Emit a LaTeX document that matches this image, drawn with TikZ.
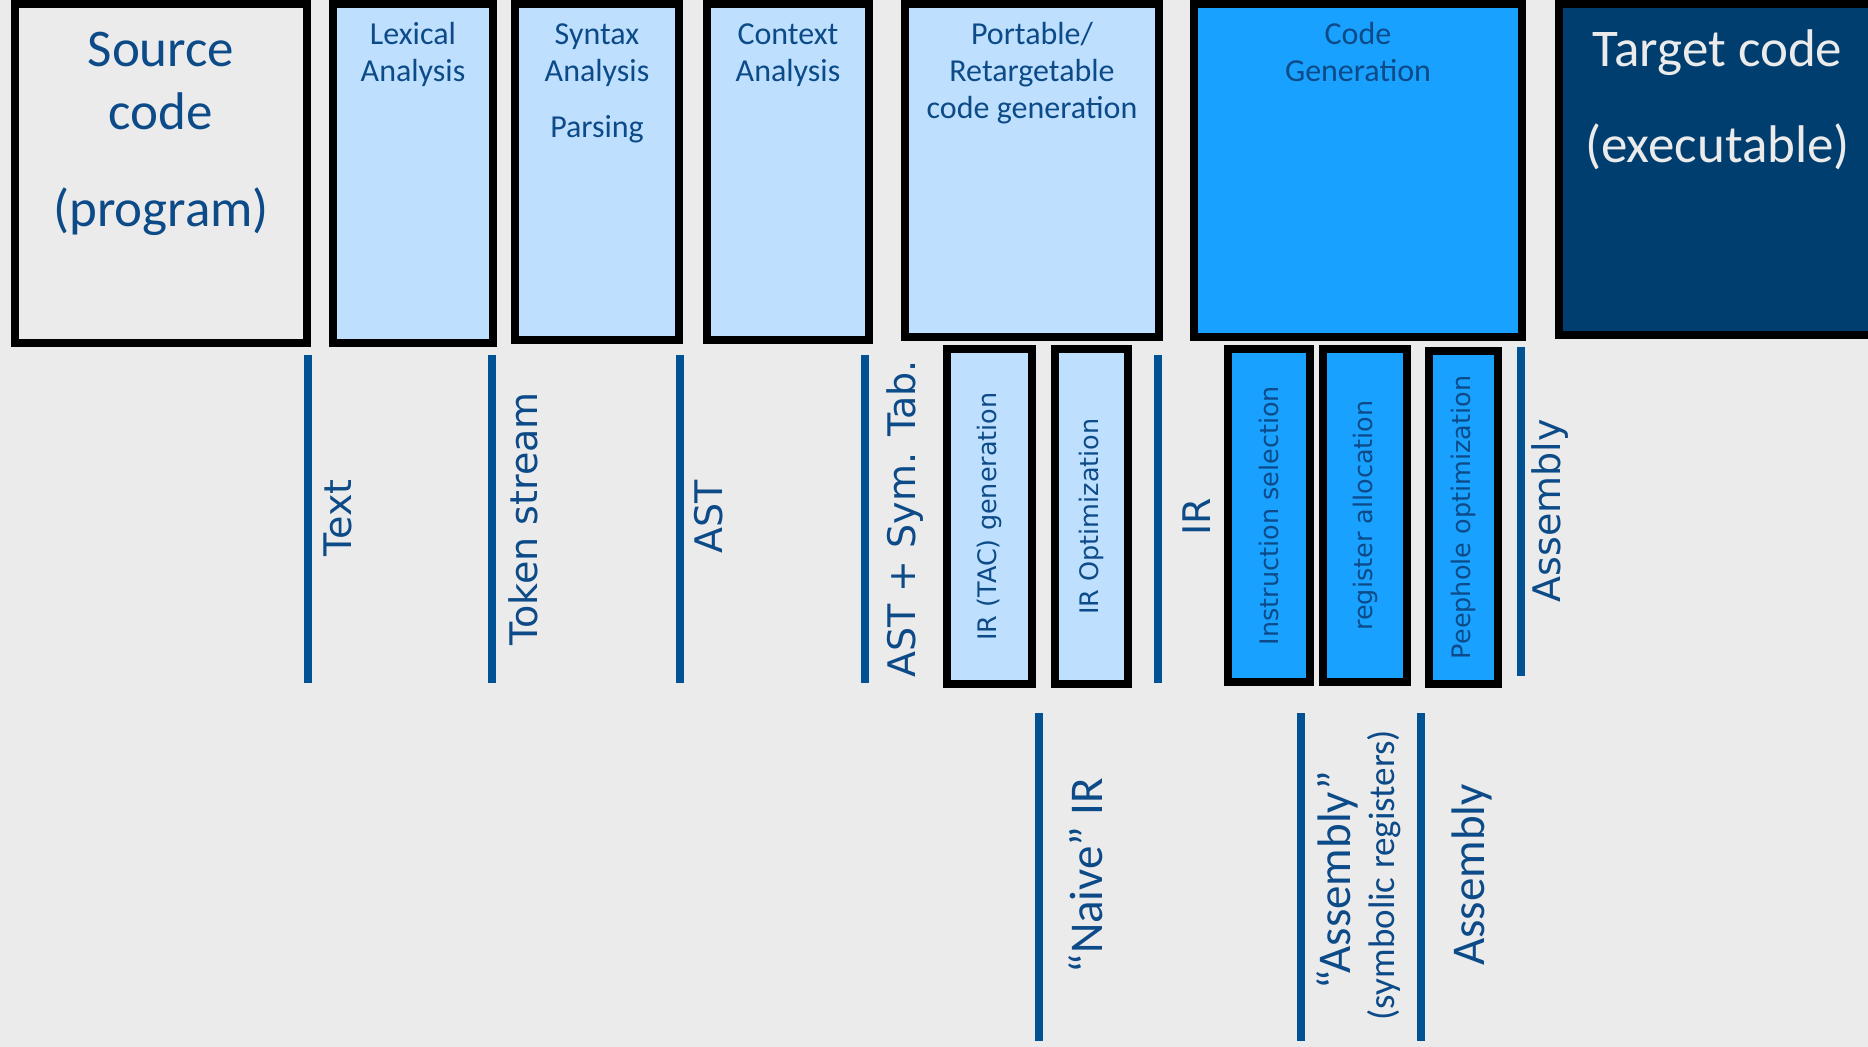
\documentclass[tikz,border=0pt]{standalone}
\usepackage{fontspec}
\setmainfont{Carlito}
\newfontfamily\dejavu{DejaVu Sans}
\usetikzlibrary{positioning}

\definecolor{bggray}{RGB}{235,235,235}
\definecolor{ink}{RGB}{12,74,136}
\definecolor{rulecol}{RGB}{0,82,148}
\definecolor{paleblue}{RGB}{190,224,254}
\definecolor{brightblue}{RGB}{24,161,255}
\definecolor{navy}{RGB}{0,62,112}

\tikzset{x=0.5pt, y=-0.5pt, % one unit = one pixel of the slide, y going down
stage/.style={ % big phase boxes along the top
draw=black, line width=4pt, inner sep=0pt},
substage/.style={ % small upright boxes below a phase
draw=black, line width=4pt, rotate=90, inner sep=0pt,
text=ink, font=\dejavu\fontsize{12.75}{15}\selectfont},
head/.style={ % phase titles
anchor=base, inner sep=0pt, text=ink, font=\fontsize{16}{19}\selectfont},
bighead/.style={head, font=\fontsize{26.5}{31}\selectfont},
sep/.style={draw=rulecol, line width=3.75pt},
form/.style={ % what flows between two phases
rotate=90, inner sep=0pt, text=ink, font=\dejavu\fontsize{19}{22}\selectfont},
lowform/.style={rotate=90, inner sep=0pt, text=ink, font=\fontsize{23.5}{28}\selectfont}}

\begin{document}
\begin{tikzpicture}

    \useasboundingbox (0,0) rectangle (1868,1047);
    \clip (0,0) rectangle (1868,1047);
    \fill[bggray] (0,0) rectangle (1868,1047);

    % phases
    \node[stage, fill=bggray, minimum width=146pt, minimum height=169.5pt] (src) at (161,173.5) {};
    \node[stage, fill=paleblue, minimum width=80pt, minimum height=169.5pt] (lex) at (413,173.5) {};
    \node[stage, fill=paleblue, minimum width=82pt, minimum height=168pt] (syn) at (597,172) {};
    \node[stage, fill=paleblue, minimum width=81pt, minimum height=168pt] (ctx) at (788,172) {};
    \node[stage, fill=paleblue, minimum width=127pt, minimum height=166.5pt] (port) at (1032,170.5) {};
    \node[stage, fill=brightblue, minimum width=164pt, minimum height=166.5pt] (cgen) at (1358,170.5) {};
    \node[stage, fill=navy, minimum width=158.5pt, minimum height=165.5pt] (tgt) at (1717.5,169.5) {};

    \node[bighead] (src1) at (161,67) {Source};
    \node[bighead] (src2) at (161,130) {code};
    \node[bighead] (src3) at (161,227) {(program)};
    \node[head] (lex1) at (413,45) {Lexical};
    \node[head] (lex2) at (413,82) {Analysis};
    \node[head] (syn1) at (597,45) {Syntax};
    \node[head] (syn2) at (597,82) {Analysis};
    \node[head] (syn3) at (597,138) {Parsing};
    \node[head] (ctx1) at (788,45) {Context};
    \node[head] (ctx2) at (788,82) {Analysis};
    \node[head] (port1) at (1032,45) {Portable/};
    \node[head] (port2) at (1032,82) {Retargetable};
    \node[head] (port3) at (1032,119) {code generation};
    \node[head] (cgen1) at (1358,45) {Code};
    \node[head] (cgen2) at (1358,82) {Generation};
    \node[bighead, text=bggray] (tgt1) at (1717.5,67) {Target code};
    \node[bighead, text=bggray] (tgt2) at (1717.5,163) {(executable)};

    % sub-phases
    \node[substage, fill=paleblue, minimum width=167.5pt, minimum height=42.5pt] (irgen) at (989.5,516.5) {IR (TAC) generation};
    \node[substage, fill=paleblue, minimum width=167.5pt, minimum height=36.5pt] (iropt) at (1091.5,516.5) {IR Optimization};
    \node[substage, fill=brightblue, minimum width=166.5pt, minimum height=41pt] (isel) at (1269,515.5) {Instruction selection};
    \node[substage, fill=brightblue, minimum width=166.5pt, minimum height=42pt] (ralloc) at (1365,515.5) {register allocation};
    \node[substage, fill=brightblue, minimum width=166.5pt, minimum height=34.5pt] (peep) at (1463.5,517.5) {Peephole optimization};

    % separators
    \foreach \px in {308,492,680,865,1158}
        \draw[sep] (\px,355) -- (\px,683);
    \draw[sep] (1521,347) -- (1521,676);
    \foreach \px in {1039,1301,1421}
        \draw[sep] (\px,713) -- (\px,1041);

    \node[form] (text) at (338,518) {Text};
    \node[form] (tokens) at (523,519) {Token stream};
    \node[form] (ast) at (709,517) {AST};
    \node[form] (astsym) at (905,519) {AST + Sym. Tab.};
    \node[form] (ir) at (1197,517) {IR};
    \node[form] (asm) at (1550,511) {Assembly};

    \node[lowform] (naive) at (1086,876) {“Naive” IR};
    \node[lowform] (symasm) at (1337,880) {“Assembly”};
    \node[lowform, font=\fontsize{18.5}{22}\selectfont] (symreg) at (1384,875) {(symbolic registers)};
    \node[lowform] (asm2) at (1472,875) {Assembly};

\end{tikzpicture}
\end{document}
